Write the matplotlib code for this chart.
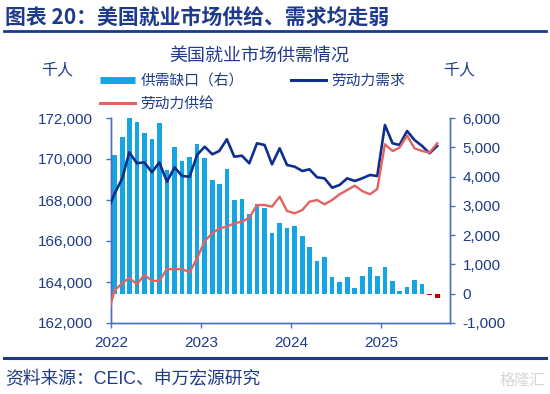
import pandas as pd
import matplotlib.pyplot as plt
import matplotlib.dates as mdates
from matplotlib.lines import Line2D
from matplotlib.ticker import FuncFormatter

# 数据（千人），月度，2021-12 起
demand = [167420, 168327, 169058, 170327, 169790, 169839, 169351, 169839, 168893,
          169595, 169171, 169137, 170195, 170600, 170230, 170390, 170961, 170112,
          170161, 169790, 170766, 170683, 169741, 170522, 169707, 169624, 169415,
          169497, 169107, 169058, 168600, 168732, 169058, 168927, 169058, 169220,
          169171, 171659, 170766, 170683, 171366, 170927, 170634, 170278, 170634]
supply = [162269, 163610, 163937, 164210, 163888, 164341, 164063, 164049, 164634,
          164617, 164634, 164471, 165154, 166000, 166376, 166620, 166698, 166863,
          166942, 167137, 167756, 167756, 167673, 168161, 167463, 167351, 167512,
          167917, 168000, 167790, 168000, 168278, 168488, 168698, 168439, 168278,
          168537, 170717, 170390, 170551, 171137, 170522, 170390, 170307, 170766]
# 供需缺口（右轴），2022-01 起
gap = [4737, 5362, 5990, 5874, 5478, 5283, 5819, 4225, 5000, 4532, 4669, 5102,
       4645, 3884, 3737, 4249, 3201, 3235, 2713, 3054, 2939, 2085, 2406, 2256,
       2314, 1983, 1597, 1130, 1266, 563, 413, 584, 208, 618, 904, 618,
       904, 437, 106, 242, 471, 334, -35, -133]

line_dates = pd.date_range('2021-12-01', periods=len(demand), freq='MS') + pd.Timedelta(days=15)
bar_dates = pd.date_range('2022-01-01', periods=len(gap), freq='MS') + pd.Timedelta(days=15)

navy = '#1E3A8A'
spine_c = '#4A6FC0'
bar_c = '#14A5E2'
neg_c = '#C00000'
demand_c = '#0E2F8E'
supply_c = '#E4625F'
cjk = ['Noto Sans CJK SC', 'DejaVu Sans']
num = ['Liberation Sans', 'Noto Sans CJK SC', 'DejaVu Sans']

fig = plt.figure(figsize=(5.5, 3.94), dpi=100)
ax = fig.add_axes([111 / 550, 1 - 323 / 394, (450 - 111) / 550, (323 - 118) / 394])
ax2 = ax.twinx()

# 柱状图（右轴）
colors = [bar_c if v >= 0 else neg_c for v in gap]
ax2.bar(bar_dates, gap, width=19, color=colors, zorder=2)
ax2.set_ylim(-1000, 6000)
ax2.set_yticks(range(-1000, 6001, 1000))

# 折线（左轴）
ax.plot(line_dates, demand, color=demand_c, lw=1.9, zorder=3)
ax.plot(line_dates, supply, color=supply_c, lw=1.7, zorder=3)
ax.set_ylim(162000, 172000)
ax.set_yticks(range(162000, 172001, 2000))
ax.set_zorder(ax2.get_zorder() + 1)
ax.patch.set_visible(False)

ax.set_xlim(pd.Timestamp('2022-01-01'), pd.Timestamp('2025-10-07'))
ax.xaxis.set_major_locator(mdates.YearLocator())
ax.xaxis.set_major_formatter(mdates.DateFormatter('%Y'))

fmt = FuncFormatter(lambda v, p: f'{v:,.0f}')
ax.yaxis.set_major_formatter(fmt)
ax2.yaxis.set_major_formatter(fmt)

for a in (ax, ax2):
    a.spines['top'].set_visible(False)
    for s in ('left', 'right', 'bottom'):
        a.spines[s].set_color(spine_c)
        a.spines[s].set_linewidth(1.0)
    a.tick_params(colors=spine_c, labelcolor=navy, length=3.6, width=1.0, labelsize=11)
    for lbl in a.get_xticklabels() + a.get_yticklabels():
        lbl.set_family(num)
ax.tick_params(axis='y', pad=9.5)
ax.tick_params(axis='x', pad=6)
ax2.tick_params(axis='y', pad=5.5)

# 图例
handles = [Line2D([], [], color=bar_c, lw=5, solid_capstyle='butt'),
           Line2D([], [], color=supply_c, lw=2.2),
           Line2D([], [], color=demand_c, lw=2.2)]
labels = ['供需缺口（右）', '劳动力供给', '劳动力需求']
fig.legend(handles, labels, loc='upper left', bbox_to_anchor=(100 / 550, 1 - 74 / 394),
           ncol=2, frameon=False, handlelength=2.4, handletextpad=0.35,
           columnspacing=3.2, labelspacing=0.6, borderpad=0, borderaxespad=0,
           prop={'family': cjk, 'size': 10.6}, labelcolor=navy)

# 文字
fig.text(5 / 550, 1 - 17 / 394, '图表 20：美国就业市场供给、需求均走弱', family=cjk,
         weight='bold', size=15, color=navy, va='center', ha='left')
fig.add_artist(Line2D([4 / 550, 546 / 550], [1 - 31 / 394] * 2, color='#1B3A8C', lw=2))
fig.text(259 / 550, 1 - 56 / 394, '美国就业市场供需情况', family=cjk, size=13,
         color=navy, va='center', ha='center')
fig.text(57 / 550, 1 - 70 / 394, '千人', family=cjk, size=11.5, color=navy,
         va='center', ha='center')
fig.text(459 / 550, 1 - 70 / 394, '千人', family=cjk, size=11.5, color=navy,
         va='center', ha='center')
fig.add_artist(Line2D([4 / 550, 546 / 550], [1 - 358 / 394] * 2, color='#1B3A8C', lw=2.2))
fig.text(5 / 550, 1 - 380 / 394, '资料来源：CEIC、申万宏源研究', family=num, size=12.8,
         color=navy, va='center', ha='left')
fig.text(545 / 550, 1 - 380 / 394, '格隆汇', family=cjk, size=11, color='#D5D5D5',
         va='center', ha='right')

fig.savefig('out.png', dpi=100)
